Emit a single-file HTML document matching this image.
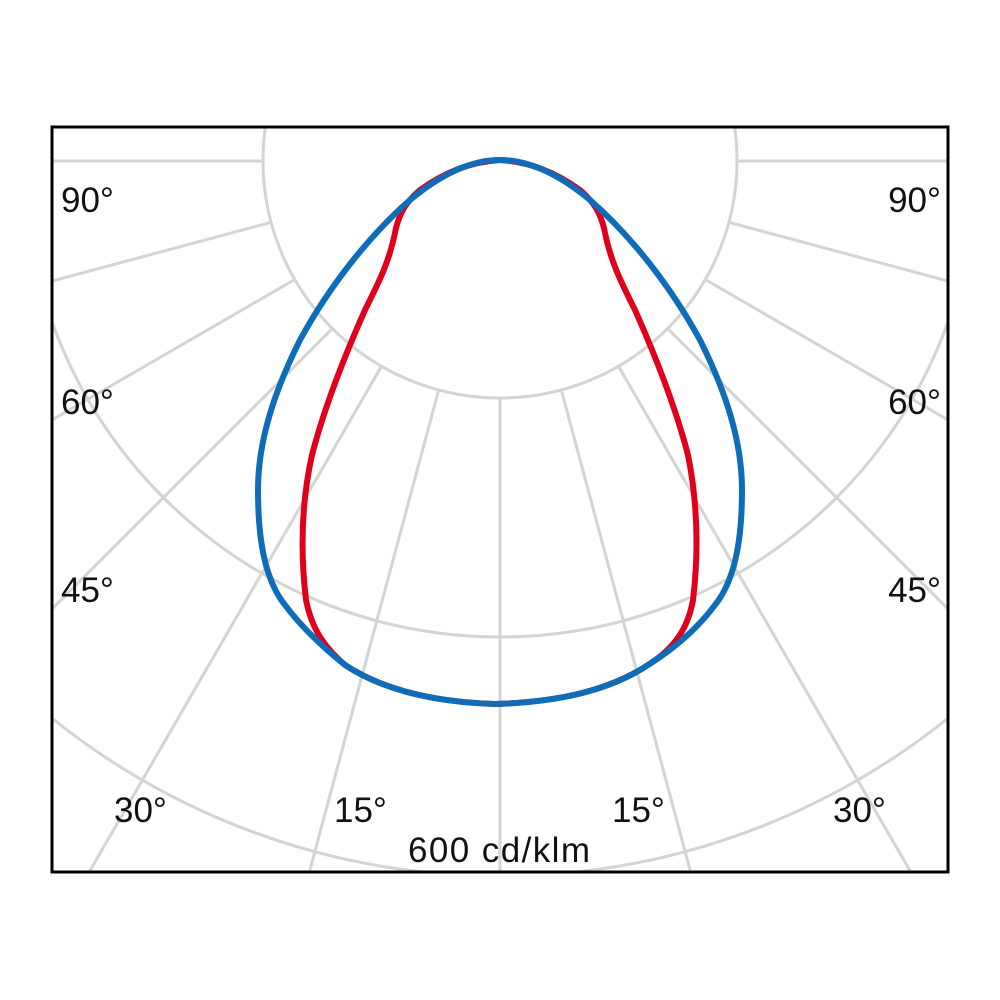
<!DOCTYPE html>
<html><head><style>html,body{margin:0;background:#fff;overflow:hidden;width:1000px;height:1000px}svg{display:block}</style></head><body>
<svg width="1000" height="1000" viewBox="0 0 1000 1000" xmlns="http://www.w3.org/2000/svg">
<defs><clipPath id="c"><rect x="52" y="127" width="896" height="745"/></clipPath></defs>
<g clip-path="url(#c)" stroke="#d4d4d4" stroke-width="3" fill="none">
<circle cx="500" cy="161" r="237"/>
<circle cx="500" cy="161" r="476"/>
<circle cx="500" cy="161" r="715"/>
<g id="rl">
<line x1="500" y1="398" x2="500" y2="900"/>
<line x1="438.7" y1="389.9" x2="300" y2="907"/>
<line x1="381.5" y1="366.2" x2="80" y2="888"/>
<line x1="332.4" y1="328.6" x2="0" y2="661"/>
<line x1="294.8" y1="279.5" x2="0" y2="450"/>
<line x1="271.1" y1="222.3" x2="0" y2="295"/>
<line x1="263" y1="161" x2="0" y2="161"/>
</g>
<use href="#rl" transform="translate(1000,0) scale(-1,1)"/>
</g>
<rect x="52" y="127" width="896" height="745" fill="none" stroke="#000" stroke-width="3"/>
<path d="M500,160 C470,162 445,172 420,190 C405,203 400,213 396,228 C390,260 380,280 365,310 C345,355 325,405 312,455 C302,500 300,550 306,600 C312,630 325,648 345,665 C380,688 430,702 495,704 C560,702 610,690 648,665 C675,648 688,628 693,600 C699,550 697,500 688,455 C675,405 655,355 635,310 C620,280 610,260 604,228 C600,213 595,203 580,190 C555,172 530,162 500,160 Z" fill="none" stroke="#e0001b" stroke-width="6"/>
<path d="M500,160 C470,160 440,175 410,200 C370,235 330,285 300,340 C275,390 258,440 258,490 C258,540 265,580 285,605 C300,625 320,645 345,665 C380,688 430,702 495,704 C560,702 610,690 648,665 C680,645 700,625 715,605 C735,580 742,540 742,490 C742,440 725,390 700,340 C670,285 630,235 590,200 C560,175 530,160 500,160 Z" fill="none" stroke="#0d6db8" stroke-width="6"/>
<g font-family="Liberation Sans, sans-serif" font-size="35" fill="#111">
<text x="61" y="212">90°</text><text x="941" y="212" text-anchor="end">90°</text>
<text x="61" y="414">60°</text><text x="941" y="414" text-anchor="end">60°</text>
<text x="61" y="602">45°</text><text x="941" y="602" text-anchor="end">45°</text>
<text x="114" y="822">30°</text><text x="833" y="822">30°</text>
<text x="334" y="822">15°</text><text x="612" y="822">15°</text>
<text x="499" y="862" text-anchor="middle" textLength="182">600 cd/klm</text>
</g>
</svg>
</body></html>
